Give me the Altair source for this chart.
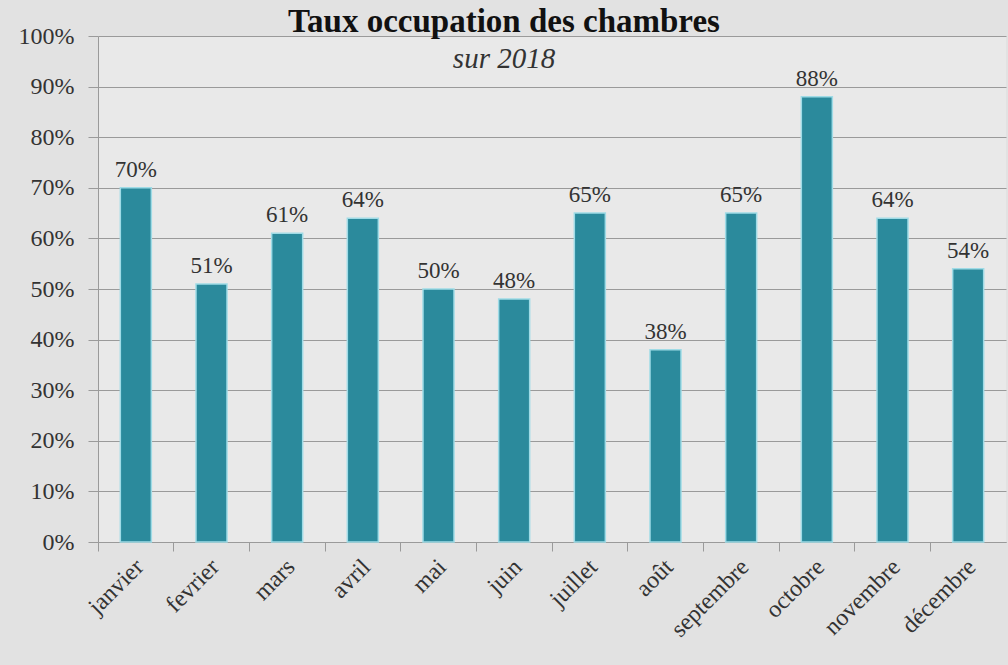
import altair as alt
import pandas as pd

months = ["janvier", "fevrier", "mars", "avril", "mai", "juin", "juillet",
          "août", "septembre", "octobre", "novembre", "décembre"]
rates = [0.70, 0.51, 0.61, 0.64, 0.50, 0.48, 0.65, 0.38, 0.65, 0.88, 0.64, 0.54]
y_ticks = [0, 0.1, 0.2, 0.3, 0.4, 0.5, 0.6, 0.7, 0.8, 0.9, 1.0]

df = pd.DataFrame({"mois": months, "taux": rates})

FONT = "Liberation Serif"
W, H = 908, 506

x_enc = alt.X("mois:N", sort=months,
              scale=alt.Scale(paddingInner=0, paddingOuter=0),
              axis=alt.Axis(title=None, labelAngle=-45, labelAlign="right",
                            labelBaseline="middle", labelFont=FONT, labelFontSize=24,
                            labelColor="#333333", labelPadding=12, labelOffset=4,
                            bandPosition=0, tickSize=9, tickColor="#9a9a9a",
                            domainColor="#9a9a9a", grid=False))
y_enc = alt.Y("taux:Q", scale=alt.Scale(domain=[0, 1], nice=False),
              axis=alt.Axis(title=None, format=".0%", values=y_ticks, labelFont=FONT,
                            labelFontSize=24, labelColor="#333333", labelPadding=14,
                            tickSize=10, tickColor="#9a9a9a", domainColor="#9a9a9a",
                            gridColor="#9a9a9a", gridWidth=1, gridOpacity=1))

base = alt.Chart(df)

bars = base.mark_bar(width=31, color="#2b8a9c", stroke="#9fdbe6", strokeWidth=1.5,
                     cornerRadius=0).encode(x=x_enc, y=y_enc)

labels = base.mark_text(dy=-18, font=FONT, fontSize=23, color="#333333",
                        baseline="middle").encode(
    x=alt.X("mois:N", sort=months), y=alt.Y("taux:Q"),
    text=alt.Text("taux:Q", format=".0%"))

chart = alt.layer(bars, labels).properties(
    width=W, height=H,
    title=alt.TitleParams(
        "Taux occupation des chambres", subtitle="sur 2018",
        font=FONT, fontSize=33, fontWeight="bold", color="#111111",
        subtitleFont=FONT, subtitleFontSize=29, subtitleFontStyle="italic",
        subtitleColor="#333333", subtitlePadding=6, anchor="middle", frame="group",
        dx=-48, offset=-50),
    autosize=alt.AutoSizeParams(type="none"),
    padding={"left": 98, "top": 36, "right": 2, "bottom": 123},
    background="#e2e2e2",
).configure_view(fill="#e9e9e9", stroke=None)

chart.save("out.html", embed_options={"renderer": "svg", "actions": False})
